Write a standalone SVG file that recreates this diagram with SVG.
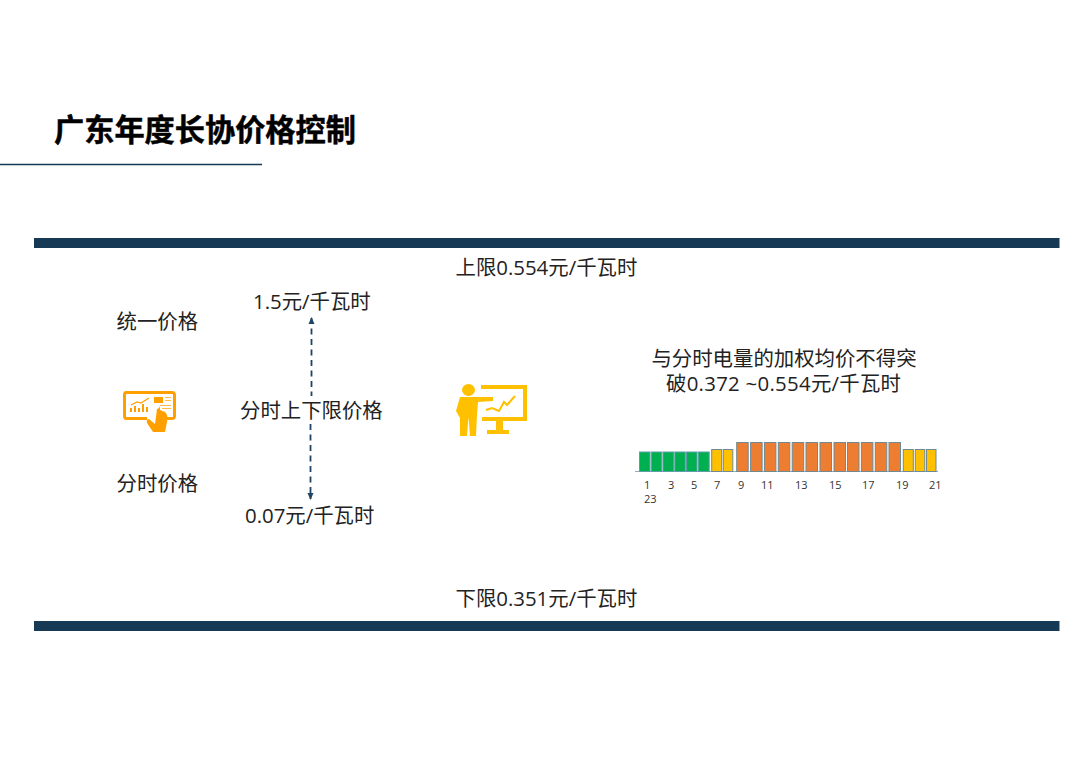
<svg xmlns="http://www.w3.org/2000/svg" width="1080" height="764" viewBox="0 0 1080 764">
<style>
text{font-family:"Open Sans","Noto Sans CJK SC",sans-serif;fill:#222}
.l{font-size:20.400px}
.a{font-size:11px;fill:#333}
.g{fill:#00B050;stroke:#5f9ea8;stroke-width:1}
.y{fill:#FFC000;stroke:#6f8a94;stroke-width:1}
.o{fill:#ED7D31;stroke:#6f8a94;stroke-width:1}
.band{fill:#163A56}
</style>
<defs>
<marker id="ah" markerWidth="8" markerHeight="8" refX="6" refY="4" orient="auto-start-reverse" markerUnits="userSpaceOnUse"><path d="M0 1L7 4L0 7Z" fill="#1F4466"/></marker>
</defs>
<rect width="1080" height="764" fill="#fff"/>
<g id="title">
<text x="54" y="141" font-size="30.200" font-weight="700" style="fill:#000;stroke:#000;stroke-width:.5">广东年度长协价格控制</text>
<line x1="0" y1="164.500" x2="262" y2="164.500" stroke="#163A56" stroke-width="1.500"/>
</g>
<g id="band-top"><rect class="band" x="34" y="238" width="1025.500" height="10"/></g>
<g id="band-bottom"><rect class="band" x="34" y="621" width="1025.500" height="10"/></g>
<g id="upper-limit"><text class="l" x="455.500" y="275">上限0.554元/千瓦时</text></g>
<g id="lower-limit"><text class="l" x="455.500" y="606">下限0.351元/千瓦时</text></g>
<g id="unified-price"><text class="l" x="116.500" y="328.500">统一价格</text></g>
<g id="tou-price"><text class="l" x="116.500" y="490.500">分时价格</text></g>
<g id="max-price"><text class="l" x="253" y="308.500">1.5元/千瓦时</text></g>
<g id="min-price"><text class="l" x="245" y="522.500">0.07元/千瓦时</text></g>
<g id="connectors">
<line x1="311.500" y1="318" x2="311.500" y2="396" stroke="#1F4466" stroke-width="1.800" stroke-dasharray="6 4.500" marker-start="url(#ah)"/>
<line x1="310.500" y1="424" x2="310.500" y2="499" stroke="#1F4466" stroke-width="1.800" stroke-dasharray="6 4.500" marker-end="url(#ah)"/>
</g>
<g id="tou-limit"><text class="l" x="240" y="417.500">分时上下限价格</text></g>
<g id="tablet-icon" fill="#FFA000">
<path fill-rule="evenodd" d="M126 391H172Q176 391 176 395V416Q176 420 172 420H165V417H173V394H126V417H147V420H126Q123 420 123 416V395Q123 391 126 391Z"/>
<path d="M157 409Q160 408 160 405V410L165 412Q168 414 167 422L165 432H153L147 423Q146 419 149 419L155 424Z"/>
<rect x="154" y="397" width="9" height="6"/>
<path d="M130 412V408H132V412ZM134 412V406H136V412ZM138 412V408H140V412ZM142 412V404H144V412ZM146 412V407H148V412Z"/>
<path d="M131 405L137 402L141 403L149 398" fill="none" stroke="#FFA000" stroke-width="1.200"/>
<path d="M165 397H171V398H165ZM165 400H171V401H165ZM160 405H171V406H160ZM162 408H171V409H162Z" opacity=".7"/>
</g>
<g id="presenter-icon" fill="#FFC000">
<ellipse cx="468.500" cy="390" rx="6.500" ry="6"/>
<path d="M460 397H474L493 397V401L478 402L477 415L476 436H470L468.500 417L467 436H460V418L456 411Z"/>
<path fill-rule="evenodd" d="M481 385H527V421H482V417H523V389H481Z"/>
<path d="M496 421H503V430H509V434H487V430H496Z"/>
<path d="M486 410L492 408L499 411L504 402L507 405L515 396" fill="none" stroke="#FFC000" stroke-width="2"/>
</g>
<g id="note">
<text class="l" x="784" y="366" text-anchor="middle">与分时电量的加权均价不得突</text>
<text class="l" x="666" y="391" textLength="235" lengthAdjust="spacing">破0.372 ~0.554元/千瓦时</text>
</g>
<g id="chart">
<line x1="635" y1="471.500" x2="938" y2="471.500" stroke="#9ab" stroke-width="1"/>
<rect class="g" x="639.500" y="452" width="10.500" height="19.500"/><rect class="g" x="651.300" y="452" width="10.500" height="19.500"/><rect class="g" x="663" y="452" width="10.500" height="19.500"/><rect class="g" x="674.800" y="452" width="10.500" height="19.500"/><rect class="g" x="686.500" y="452" width="10.500" height="19.500"/><rect class="g" x="698.200" y="452" width="11" height="19.500"/>
<rect class="y" x="711.700" y="449.500" width="10" height="22"/><rect class="y" x="723.300" y="449.500" width="9.500" height="22"/>
<rect class="o" x="736.700" y="442.500" width="11.500" height="29"/><rect class="o" x="750.600" y="442.500" width="11.500" height="29"/><rect class="o" x="764.400" y="442.500" width="11.500" height="29"/><rect class="o" x="778.300" y="442.500" width="11.500" height="29"/><rect class="o" x="792.200" y="442.500" width="11.500" height="29"/><rect class="o" x="806" y="442.500" width="11.500" height="29"/><rect class="o" x="820" y="442.500" width="11.500" height="29"/><rect class="o" x="834" y="442.500" width="11.500" height="29"/><rect class="o" x="847.500" y="442.500" width="11.500" height="29"/><rect class="o" x="861.400" y="442.500" width="11.500" height="29"/><rect class="o" x="875.300" y="442.500" width="11.500" height="29"/><rect class="o" x="889" y="442.500" width="11.500" height="29"/>
<rect class="y" x="903.300" y="449.500" width="10" height="22"/><rect class="y" x="915.300" y="449.500" width="9.500" height="22"/><rect class="y" x="926.500" y="449.500" width="9.500" height="22"/>
<text class="a" x="644" y="489">1</text><text class="a" x="668" y="489">3</text><text class="a" x="691" y="489">5</text><text class="a" x="714" y="489">7</text><text class="a" x="738" y="489">9</text><text class="a" x="761" y="489">11</text><text class="a" x="795" y="489">13</text><text class="a" x="829" y="489">15</text><text class="a" x="862" y="489">17</text><text class="a" x="896" y="489">19</text><text class="a" x="929" y="489">21</text><text class="a" x="644" y="503">23</text>
</g>
</svg>
